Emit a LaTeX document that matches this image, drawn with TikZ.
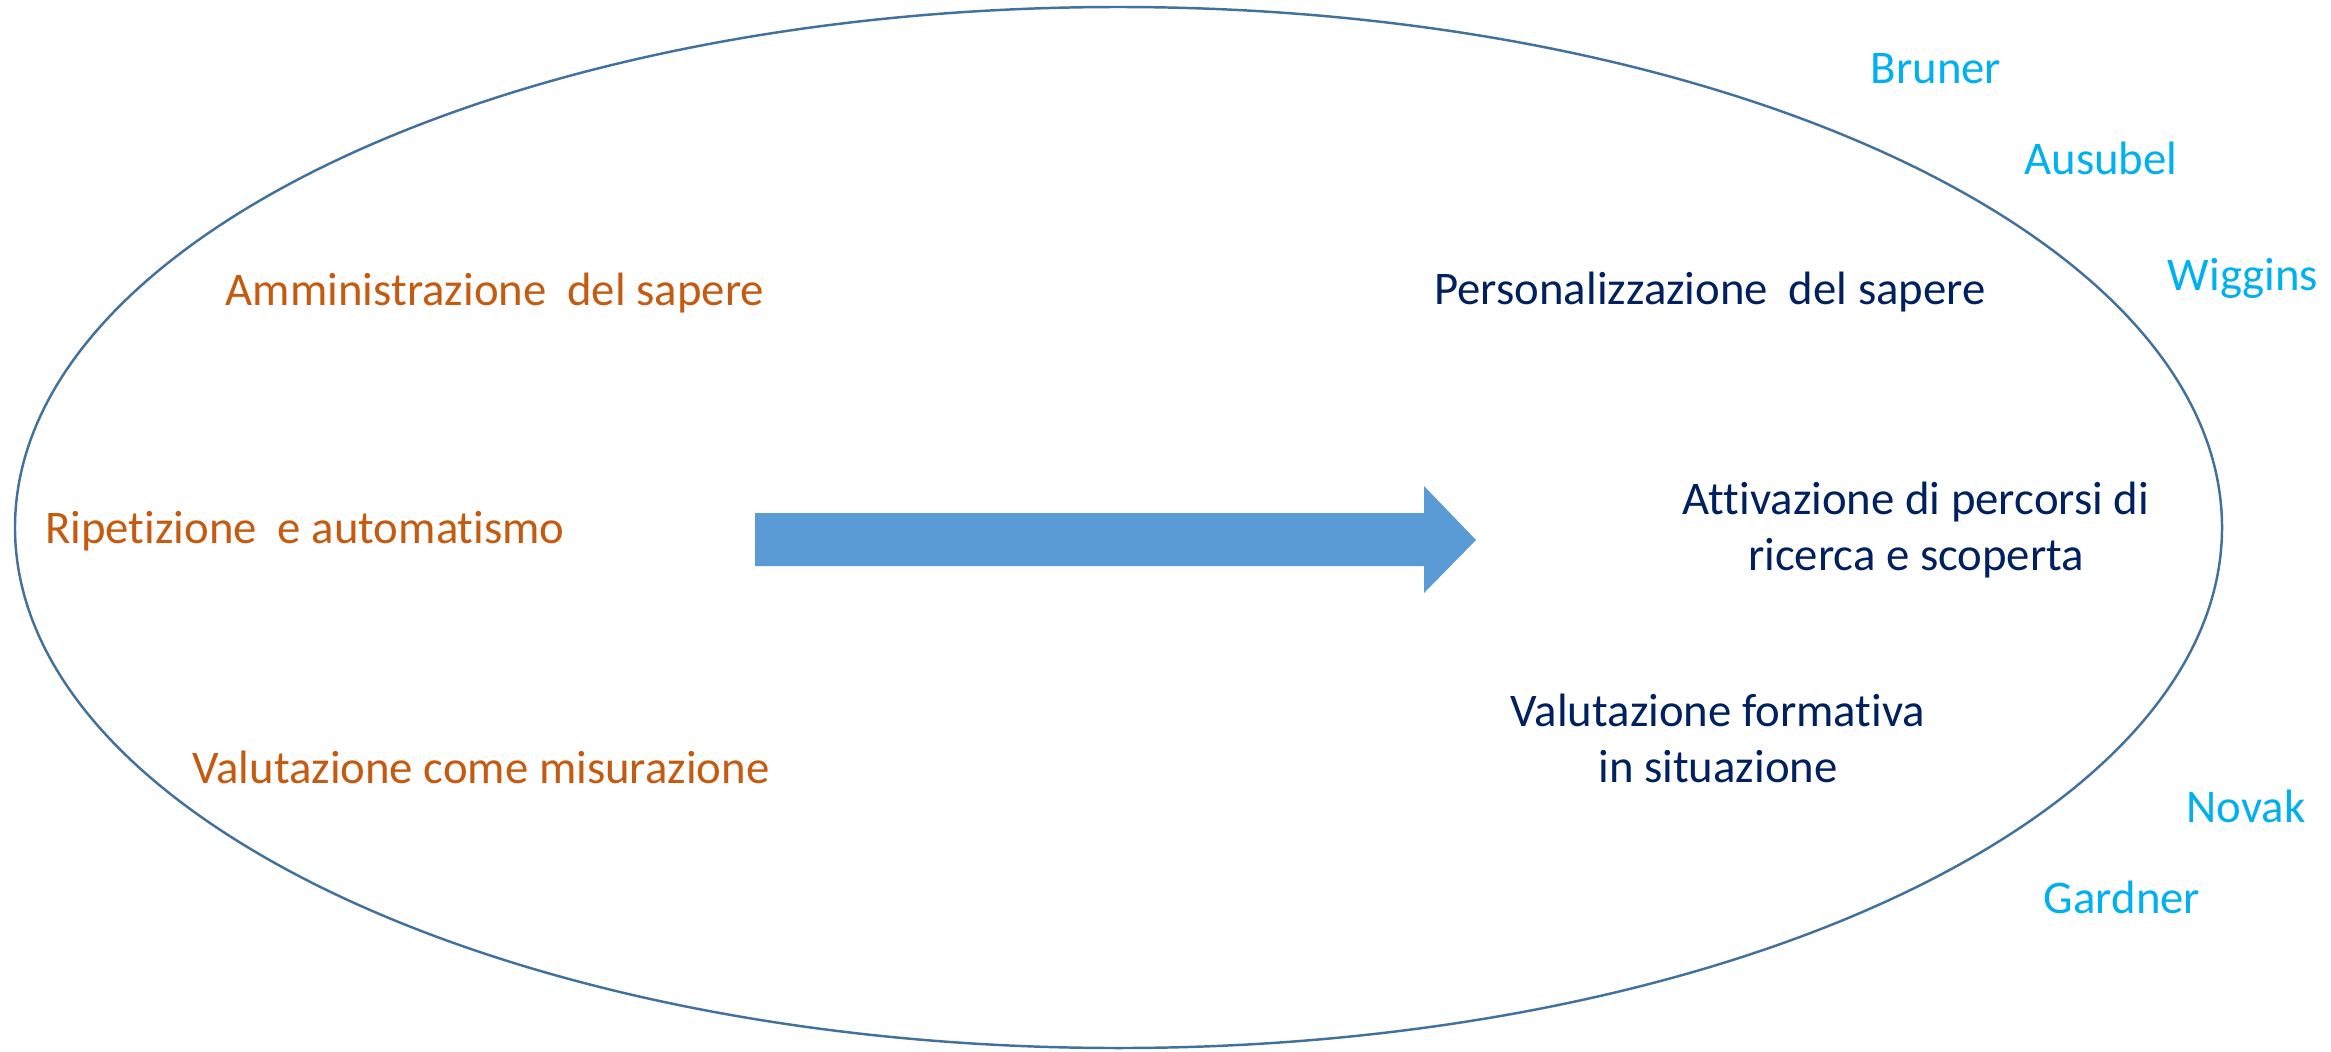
\documentclass[tikz,border=0pt]{standalone}
\usepackage{fontspec}
\setmainfont{Carlito}[Ligatures=NoCommon]
\definecolor{rim}{HTML}{41719C}
\definecolor{oldway}{HTML}{C55A11}
\definecolor{newway}{HTML}{002060}
\definecolor{author}{HTML}{00B0F0}
\definecolor{bigarrow}{HTML}{5B9BD5}
\tikzset{
  lbl/.style={inner sep=0pt, anchor=base, font=\fontsize{13.3pt}{15.9pt}\selectfont, align=center},
  old/.style={lbl, text=oldway},
  new/.style={lbl, text=newway},
  who/.style={lbl, text=author},
}
\newcommand{\wsp}{\hspace{0.22em} }
\begin{document}
\begin{tikzpicture}[x=0.01cm, y=-0.01cm]
  \useasboundingbox (0,0) rectangle (2331,1051);
  % outer ellipse
  \draw[rim, line width=0.7pt] (1118.5,527.5) ellipse [x radius=1103.5, y radius=520.5];
  % block arrow
  \fill[bigarrow] (755,513) -- (1424,513) -- (1424,486) -- (1476,540) -- (1424,593)
     -- (1424,566) -- (755,566) -- cycle;
  % traditional side
  \node[old] (amm) at (495,305) {Amministrazione\wsp del sapere};
  \node[old] (rip) at (305,543) {Ripetizione\wsp e automatismo};
  \node[old] (val) at (481,783) {Valutazione come misurazione};
  % new side (base anchor of a two-line node sits on its last line)
  \node[new] (pers) at (1710,304) {Personalizzazione\wsp del sapere};
  \node[new] (att) at (1916,570) {Attivazione di percorsi di\\ricerca e scoperta};
  \node[new] (form) at (1718,782) {Valutazione formativa\\in situazione};
  % authors
  \node[who] (bru) at (1936,83) {Bruner};
  \node[who] (aus) at (2101,174) {Ausubel};
  \node[who] (wig) at (2243,290) {Wiggins};
  \node[who] (nov) at (2246,822) {Novak};
  \node[who] (gar) at (2122,913) {Gardner};
\end{tikzpicture}
\end{document}
